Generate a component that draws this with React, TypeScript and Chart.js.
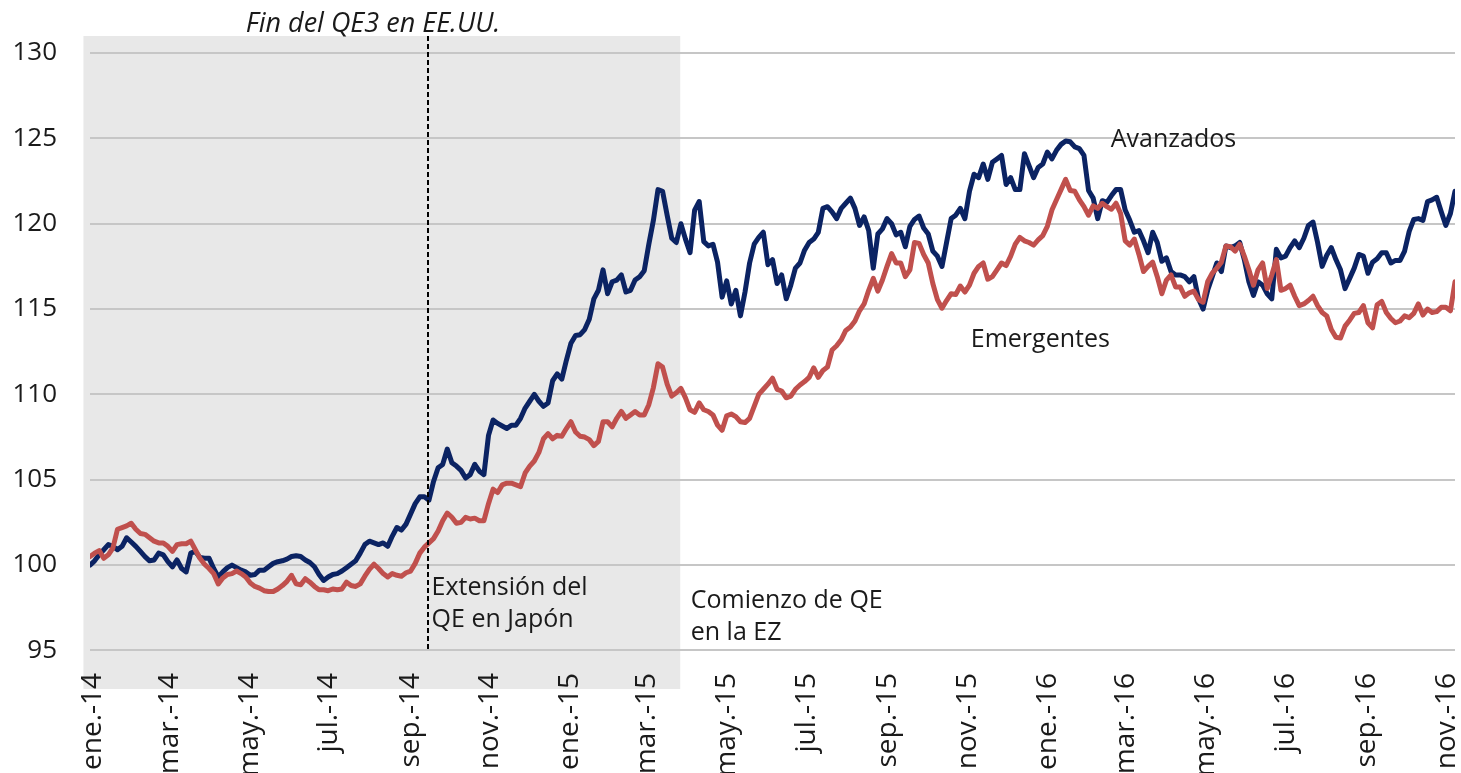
import React, { useEffect, useRef } from 'react';
import { Chart, registerables } from 'chart.js';

Chart.register(...registerables);

// ---- data (semi-weekly observations, first one on 30 Dec 2013) ----
const FIRST_DATE = '2013-12-30';
const STEP_DAYS = 3.5;

const AVANZADOS = [
  100.0, 100.25, 100.6, 100.9, 101.2, 101.1, 100.9, 101.1, 101.6, 101.35,
  101.1, 100.8, 100.5, 100.25, 100.3, 100.7, 100.6, 100.2, 99.9, 100.3,
  99.8, 99.6, 100.7, 100.8, 100.45, 100.4, 100.4, 99.8, 99.3, 99.6,
  99.85, 100.0, 99.85, 99.7, 99.6, 99.4, 99.45, 99.7, 99.7, 99.9,
  100.1, 100.2, 100.25, 100.35, 100.5, 100.55, 100.5, 100.3, 100.15, 99.9,
  99.45, 99.1, 99.3, 99.45, 99.5, 99.65, 99.85, 100.05, 100.25, 100.7,
  101.2, 101.4, 101.3, 101.2, 101.3, 101.1, 101.7, 102.2, 102.05, 102.4,
  103.0, 103.6, 104.0, 104.0, 103.8, 104.9, 105.7, 105.9, 106.8, 106.0,
  105.8, 105.55, 105.1, 105.3, 105.9, 105.5, 105.3, 107.6, 108.5, 108.3,
  108.15, 108.0, 108.2, 108.2, 108.6, 109.2, 109.6, 110.0, 109.6, 109.3,
  109.5, 110.8, 111.2, 110.9, 112.0, 113.0, 113.45, 113.5, 113.8, 114.4,
  115.6, 116.1, 117.3, 115.9, 116.6, 116.7, 117.0, 116.0, 116.1, 116.7,
  116.9, 117.25, 118.8, 120.2, 122.0, 121.9, 120.5, 119.15, 118.9, 120.0,
  119.1, 118.3, 120.8, 121.3, 118.95, 118.7, 118.8, 117.75, 115.7, 116.65,
  115.3, 116.1, 114.6, 116.0, 117.7, 118.8, 119.2, 119.5, 117.6, 117.9,
  116.5, 117.0, 115.6, 116.4, 117.4, 117.7, 118.45, 118.9, 119.1, 119.5,
  120.9, 121.0, 120.7, 120.3, 120.9, 121.2, 121.5, 120.9, 119.9, 120.4,
  119.6, 117.4, 119.4, 119.7, 120.3, 120.0, 119.35, 119.5, 118.65, 119.85,
  120.25, 120.45, 119.75, 119.4, 118.4, 118.1, 117.5, 118.9, 120.3, 120.5,
  120.9, 120.3, 121.9, 122.9, 122.7, 123.5, 122.6, 123.6, 123.8, 124.0,
  122.3, 122.7, 122.0, 122.0, 124.1, 123.4, 122.7, 123.3, 123.5, 124.2,
  123.8, 124.3, 124.65, 124.85, 124.8, 124.5, 124.4, 124.0, 121.95, 121.5,
  120.3, 121.35, 121.25, 121.65, 122.0, 122.0, 120.8, 120.2, 119.5, 119.6,
  119.0, 118.3, 119.5, 118.9, 117.8, 118.0, 117.2, 117.0, 117.0, 116.9,
  116.6, 116.9, 115.6, 115.0, 116.1, 116.9, 117.7, 117.2, 118.7, 118.6,
  118.7, 118.9, 117.9, 116.6, 115.8, 116.6, 116.4, 115.9, 115.6, 118.5,
  118.0, 118.1, 118.6, 119.0, 118.6, 119.15, 119.9, 120.1, 118.9, 117.5,
  118.15, 118.6, 117.9, 117.3, 116.2, 116.8, 117.4, 118.2, 118.1, 117.1,
  117.75, 117.95, 118.3, 118.3, 117.7, 117.85, 117.85, 118.4, 119.55, 120.25,
  120.3, 120.2, 121.3, 121.4, 121.55, 120.7, 119.9, 120.6, 121.9,
];

const EMERGENTES = [
  100.5, 100.7, 100.85, 100.4, 100.6, 101.0, 102.1, 102.2, 102.3, 102.45,
  102.1, 101.85, 101.8, 101.6, 101.4, 101.3, 101.3, 101.1, 100.8, 101.2,
  101.25, 101.25, 101.4, 100.9, 100.4, 100.05, 99.8, 99.5, 98.9, 99.25,
  99.45, 99.5, 99.65, 99.5, 99.3, 98.95, 98.75, 98.65, 98.5, 98.45,
  98.45, 98.6, 98.8, 99.05, 99.4, 98.9, 98.85, 99.2, 99.0, 98.75,
  98.55, 98.55, 98.5, 98.6, 98.55, 98.6, 99.0, 98.8, 98.75, 98.9,
  99.35, 99.75, 100.05, 99.8, 99.5, 99.3, 99.5, 99.4, 99.35, 99.55,
  99.65, 100.1, 100.7, 101.05, 101.3, 101.55, 102.0, 102.6, 103.05, 102.8,
  102.45, 102.5, 102.8, 102.7, 102.75, 102.6, 102.6, 103.6, 104.45, 104.25,
  104.7, 104.8, 104.8, 104.7, 104.6, 105.4, 105.8, 106.1, 106.6, 107.4,
  107.7, 107.4, 107.6, 107.55, 108.0, 108.4, 107.8, 107.55, 107.5, 107.35,
  107.0, 107.25, 108.4, 108.4, 108.1, 108.6, 109.0, 108.6, 108.8, 109.0,
  108.8, 108.8, 109.4, 110.4, 111.8, 111.6, 110.6, 109.9, 110.1, 110.35,
  109.8, 109.1, 108.95, 109.5, 109.1, 109.0, 108.8, 108.2, 107.9, 108.75,
  108.85, 108.7, 108.4, 108.35, 108.6, 109.3, 110.0, 110.3, 110.6, 110.95,
  110.3, 110.2, 109.8, 109.9, 110.3, 110.55, 110.75, 111.0, 111.55, 111.0,
  111.4, 111.6, 112.6, 112.85, 113.2, 113.75, 113.95, 114.3, 114.9, 115.3,
  116.1, 116.8, 116.05, 116.7, 117.5, 118.25, 117.7, 117.7, 116.9, 117.3,
  118.9, 118.85, 118.2, 117.7, 116.5, 115.55, 115.05, 115.5, 115.9, 115.85,
  116.35, 116.0, 116.4, 117.1, 117.5, 117.7, 116.75, 116.9, 117.3, 117.7,
  117.55, 118.1, 118.8, 119.2, 119.0, 118.9, 118.75, 119.05, 119.3, 119.85,
  120.8, 121.4, 122.0, 122.6, 121.95, 121.9, 121.4, 121.0, 120.5, 121.05,
  120.9, 121.2, 121.0, 120.85, 121.2, 120.6, 119.0, 118.75, 119.1, 118.2,
  117.2, 117.5, 117.75, 116.9, 115.9, 116.7, 117.0, 116.3, 116.3, 115.75,
  115.95, 116.05, 115.55, 115.4, 116.6, 117.1, 117.4, 117.75, 118.7, 118.65,
  118.4, 118.8, 118.1, 117.3, 116.4, 117.3, 117.7, 116.2, 117.0, 117.9,
  116.1, 116.2, 116.4, 115.75, 115.2, 115.3, 115.5, 115.75, 115.2, 114.8,
  114.6, 113.8, 113.35, 113.3, 114.0, 114.35, 114.75, 114.8, 115.2, 114.2,
  113.9, 115.25, 115.45, 114.8, 114.45, 114.2, 114.3, 114.6, 114.5, 114.75,
  115.3, 114.65, 115.0, 114.8, 114.85, 115.1, 115.1, 114.9, 116.6,
];

const TICK_LABELS = [
  'ene.-14', 'mar.-14', 'may.-14', 'jul.-14', 'sep.-14', 'nov.-14',
  'ene.-15', 'mar.-15', 'may.-15', 'jul.-15', 'sep.-15', 'nov.-15',
  'ene.-16', 'mar.-16', 'may.-16', 'jul.-16', 'sep.-16', 'nov.-16',
];
const TICK_DATES = [
  '2014-01-01', '2014-03-01', '2014-05-01', '2014-07-01', '2014-09-01', '2014-11-01',
  '2015-01-01', '2015-03-01', '2015-05-01', '2015-07-01', '2015-09-01', '2015-11-01',
  '2016-01-01', '2016-03-01', '2016-05-01', '2016-07-01', '2016-09-01', '2016-11-01',
];

// events (dates) and value ranges
const BAND_FROM = '2013-12-25';
const BAND_TO = '2015-03-26';
const BAND_BOTTOM = 92.74;
const QE3_END = '2014-09-14';

const Y_MIN = 93.8;
const Y_MAX = 131;
const Y_STEP = 5;

const FONT = "'Open Sans', 'Segoe UI', sans-serif";
const NAVY = '#0B2363';
const RED = '#C0504D';
const BAND = '#E8E8E8';
const GRID = '#C6C6C6';
const TEXT = '#1A1A1A';

const BASE = Date.UTC(2014, 0, 1);
const dayOf = (iso: string) => {
  const [y, m, d] = iso.split('-').map(Number);
  return Math.round((Date.UTC(y, m - 1, d) - BASE) / 86400000);
};
const FIRST_DAY = dayOf(FIRST_DATE);
const TICK_DAYS = TICK_DATES.map(dayOf);
const X_MIN = FIRST_DAY;
const X_MAX = FIRST_DAY + STEP_DAYS * (AVANZADOS.length - 1);

const ANNOTATIONS = [
  { lines: ['Fin del QE3 en EE.UU.'], date: '2014-04-28', value: 131.7, italic: true, size: 27 },
  { lines: ['Extensión del', 'QE en Japón'], date: '2014-09-17', value: 98.66, italic: false, size: 25 },
  { lines: ['Comienzo de QE', 'en la EZ'], date: '2015-04-03', value: 97.9, italic: false, size: 25 },
  { lines: ['Avanzados'], date: '2016-02-18', value: 124.9, italic: false, size: 25 },
  { lines: ['Emergentes'], date: '2015-11-03', value: 113.2, italic: false, size: 25 },
];
const LINE_GAP = 1.86; // in value-axis units

const annotPlugin = {
  id: 'annotations',
  beforeDraw(chart: any) {
    const { ctx, scales } = chart;
    const x = scales.x;
    const y = scales.y;
    const x0 = x.getPixelForValue(dayOf(BAND_FROM));
    const x1 = x.getPixelForValue(dayOf(BAND_TO));
    const y0 = y.getPixelForValue(Y_MAX);
    const y1 = y.getPixelForValue(BAND_BOTTOM);
    ctx.save();
    ctx.fillStyle = BAND;
    ctx.fillRect(x0, y0, x1 - x0, y1 - y0);
    ctx.restore();
  },
  afterDatasetsDraw(chart: any) {
    const { ctx, scales } = chart;
    const x = scales.x;
    const y = scales.y;
    ctx.save();
    const lx = Math.round(x.getPixelForValue(dayOf(QE3_END)));
    ctx.strokeStyle = '#000';
    ctx.lineWidth = 2;
    ctx.setLineDash([5, 3]);
    ctx.beginPath();
    ctx.moveTo(lx, y.getPixelForValue(Y_MAX));
    ctx.lineTo(lx, y.getPixelForValue(95));
    ctx.stroke();
    ctx.setLineDash([]);

    ctx.fillStyle = TEXT;
    ctx.textAlign = 'left';
    ctx.textBaseline = 'middle';
    for (const a of ANNOTATIONS) {
      ctx.font = `${a.italic ? 'italic ' : ''}${a.size}px ${FONT}`;
      const px = x.getPixelForValue(dayOf(a.date));
      a.lines.forEach((t, i) => {
        const py = y.getPixelForValue(a.value - i * LINE_GAP);
        ctx.fillText(t, px, py);
      });
    }
    ctx.restore();
  },
};

export default function App() {
  const ref = useRef<HTMLCanvasElement>(null);
  useEffect(() => {
    document.body.style.margin = '0';
    const canvas = ref.current;
    if (!canvas) return;
    const chart = new Chart(canvas, {
      type: 'line',
      data: {
        datasets: [
          {
            label: 'Avanzados',
            data: AVANZADOS.map((v, i) => ({ x: FIRST_DAY + i * STEP_DAYS, y: v })),
            borderColor: NAVY,
            borderWidth: 5,
            pointRadius: 0,
            tension: 0,
            borderJoinStyle: 'round',
            borderCapStyle: 'round',
            order: 2,
          },
          {
            label: 'Emergentes',
            data: EMERGENTES.map((v, i) => ({ x: FIRST_DAY + i * STEP_DAYS, y: v })),
            borderColor: RED,
            borderWidth: 5,
            pointRadius: 0,
            tension: 0,
            borderJoinStyle: 'round',
            borderCapStyle: 'round',
            order: 1,
          },
        ],
      },
      options: {
        animation: false,
        responsive: false,
        maintainAspectRatio: false,
        layout: { padding: { top: 36, right: 6, left: 0, bottom: 0 } },
        plugins: { legend: { display: false }, tooltip: { enabled: false } },
        scales: {
          x: {
            type: 'linear',
            min: X_MIN,
            max: X_MAX,
            grid: { display: false, drawTicks: false },
            border: { display: false },
            afterBuildTicks: (scale: any) => {
              scale.ticks = TICK_DAYS.map((v) => ({ value: v }));
            },
            afterFit: (scale: any) => {
              scale.height = 102.1;
              scale.paddingLeft = 0;
              scale.paddingRight = 0;
            },
            ticks: {
              autoSkip: false,
              minRotation: 90,
              maxRotation: 90,
              padding: 2,
              color: TEXT,
              font: { family: FONT, size: 28 },
              callback: (value: any) => {
                const idx = TICK_DAYS.indexOf(Number(value));
                return idx >= 0 ? TICK_LABELS[idx] : '';
              },
            },
          },
          y: {
            type: 'linear',
            min: Y_MIN,
            max: Y_MAX,
            grid: { color: GRID, lineWidth: 2, drawTicks: false },
            border: { display: false },
            afterFit: (scale: any) => {
              scale.width = 90;
              scale.paddingTop = 0;
              scale.paddingBottom = 0;
            },
            ticks: {
              stepSize: Y_STEP,
              includeBounds: false,
              padding: 33,
              color: TEXT,
              font: { family: FONT, size: 26 },
              callback: (value: any) => String(value),
            },
          },
        },
      },
      plugins: [annotPlugin],
    } as any);
    return () => chart.destroy();
  }, []);
  return (
    <div style={{ width: 1461, height: 773 }}>
      <canvas ref={ref} width={1461} height={773} style={{ display: 'block' }} />
    </div>
  );
}
